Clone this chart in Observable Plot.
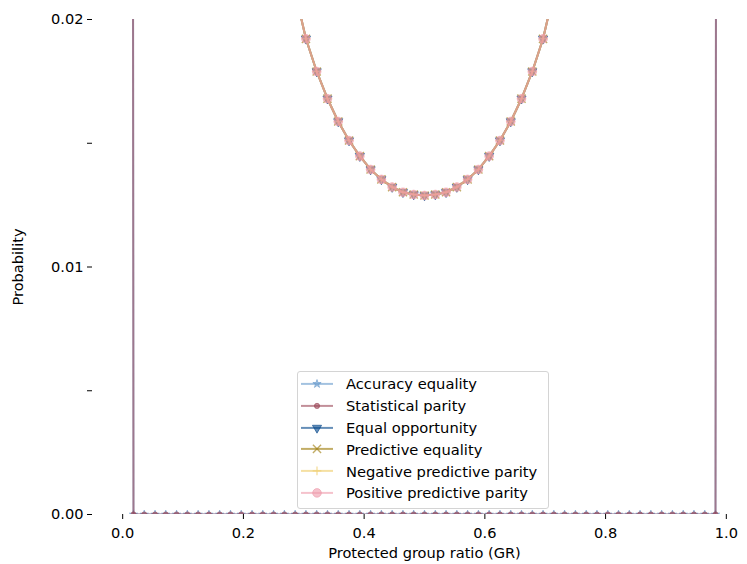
<!DOCTYPE html>
<html><head><meta charset="utf-8">
<script src="https://cdn.jsdelivr.net/npm/d3@7"></script>
<script src="https://cdn.jsdelivr.net/npm/@observablehq/plot@0.6"></script>
<style>
html,body{margin:0;padding:0;background:#fff;overflow:hidden;width:747px;height:564px;}
#wrap{position:relative;width:747px;height:564px;overflow:hidden;}
#wrap svg.plot, #wrap > svg{max-width:none !important;}
#legend{position:absolute;left:297px;top:371px;width:252px;height:138px;box-sizing:border-box;border:1px solid #d4d4d4;border-radius:3px;background:rgba(255,255,255,0.8);padding-top:1px;font-family:"DejaVu Sans";font-size:14.7px;color:#000;}
.row{display:flex;align-items:center;height:21.8px;white-space:nowrap;}
.row svg{flex:none;display:block;}
</style></head><body><div id="wrap"></div>
<script>
// Protected group ratio (GR) values
const gr = [0, 0.0179, 0.0357, 0.0536, 0.0714, 0.0893, 0.1071, 0.125, 0.1429, 0.1607,
  0.1786, 0.1964, 0.2143, 0.2321, 0.25, 0.2679, 0.2857, 0.3036, 0.3214, 0.3393,
  0.3571, 0.375, 0.3929, 0.4107, 0.4286, 0.4464, 0.4643, 0.4821, 0.5, 0.5179,
  0.5357, 0.5536, 0.5714, 0.5893, 0.6071, 0.625, 0.6429, 0.6607, 0.6786, 0.6964,
  0.7143, 0.7321, 0.75, 0.7679, 0.7857, 0.8036, 0.8214, 0.8393, 0.8571, 0.875,
  0.8929, 0.9107, 0.9286, 0.9464, 0.9643, 0.9821, 1];

const seriesNames = ["Accuracy equality", "Statistical parity", "Equal opportunity",
  "Predictive equality", "Negative predictive parity", "Positive predictive parity"];
const seriesColors = ["#6699CC", "#994455", "#004488", "#997700", "#EECC66", "#EE99AA"];

const accuracyEquality = [0.5,
  0,0,0,0,0,0,0,0,0,0,0,
  0,0,0,0,0,0,0,0,0,0,0,
  0,0,0,0,0,0,0,0,0,0,0,
  0,0,0,0,0,0,0,0,0,0,0,
  0,0,0,0,0,0,0,0,0,0,0,
  0.5];
const statisticalParity = [0.5,
  0,0,0,0,0,0,0,0,0,0,0,
  0,0,0,0,0,0,0,0,0,0,0,
  0,0,0,0,0,0,0,0,0,0,0,
  0,0,0,0,0,0,0,0,0,0,0,
  0,0,0,0,0,0,0,0,0,0,0,
  0.5];
const equalOpportunity = [0.35, 0.24, 0.175, 0.133, 0.105, 0.085, 0.0702, 0.059, 0.0504, 0.0436,
  0.0382, 0.0338, 0.0302, 0.0272, 0.0247, 0.0226, 0.0211, 0.01922, 0.0179, 0.0168,
  0.01588, 0.01511, 0.01448, 0.01394, 0.01354, 0.01323, 0.01302, 0.01293, 0.01289, 0.01293,
  0.01302, 0.01323, 0.01354, 0.01394, 0.01448, 0.01511, 0.01588, 0.0168, 0.0179, 0.01922,
  0.0211, 0.0226, 0.0247, 0.0272, 0.0302, 0.0338, 0.0382, 0.0436, 0.0504, 0.059,
  0.0702, 0.085, 0.105, 0.133, 0.175, 0.24, 0.35];
const predictiveEquality = [0.35, 0.24, 0.175, 0.133, 0.105, 0.085, 0.0702, 0.059, 0.0504, 0.0436,
  0.0382, 0.0338, 0.0302, 0.0272, 0.0247, 0.0226, 0.0211, 0.01922, 0.0179, 0.0168,
  0.01588, 0.01511, 0.01448, 0.01394, 0.01354, 0.01323, 0.01302, 0.01293, 0.01289, 0.01293,
  0.01302, 0.01323, 0.01354, 0.01394, 0.01448, 0.01511, 0.01588, 0.0168, 0.0179, 0.01922,
  0.0211, 0.0226, 0.0247, 0.0272, 0.0302, 0.0338, 0.0382, 0.0436, 0.0504, 0.059,
  0.0702, 0.085, 0.105, 0.133, 0.175, 0.24, 0.35];
const negativePredictiveParity = [0.35, 0.24, 0.175, 0.133, 0.105, 0.085, 0.0702, 0.059, 0.0504, 0.0436,
  0.0382, 0.0338, 0.0302, 0.0272, 0.0247, 0.0226, 0.0211, 0.01922, 0.0179, 0.0168,
  0.01588, 0.01511, 0.01448, 0.01394, 0.01354, 0.01323, 0.01302, 0.01293, 0.01289, 0.01293,
  0.01302, 0.01323, 0.01354, 0.01394, 0.01448, 0.01511, 0.01588, 0.0168, 0.0179, 0.01922,
  0.0211, 0.0226, 0.0247, 0.0272, 0.0302, 0.0338, 0.0382, 0.0436, 0.0504, 0.059,
  0.0702, 0.085, 0.105, 0.133, 0.175, 0.24, 0.35];
const positivePredictiveParity = [0.35, 0.24, 0.175, 0.133, 0.105, 0.085, 0.0702, 0.059, 0.0504, 0.0436,
  0.0382, 0.0338, 0.0302, 0.0272, 0.0247, 0.0226, 0.0211, 0.01922, 0.0179, 0.0168,
  0.01588, 0.01511, 0.01448, 0.01394, 0.01354, 0.01323, 0.01302, 0.01293, 0.01289, 0.01293,
  0.01302, 0.01323, 0.01354, 0.01394, 0.01448, 0.01511, 0.01588, 0.0168, 0.0179, 0.01922,
  0.0211, 0.0226, 0.0247, 0.0272, 0.0302, 0.0338, 0.0382, 0.0436, 0.0504, 0.059,
  0.0702, 0.085, 0.105, 0.133, 0.175, 0.24, 0.35];

const xTicks = [0, 0.2, 0.4, 0.6, 0.8, 1.0];
const yTicks = [0, 0.005, 0.01, 0.015, 0.02];
const yLabeled = [0, 0.01, 0.02];

// matplotlib-like triangle-down marker
const triangleDown = {
  draw(ctx, size) {
    const y = Math.sqrt(size / (3 * Math.sqrt(3)));
    const s3 = Math.sqrt(3);
    ctx.moveTo(0, 2 * y);
    ctx.lineTo(s3 * y, -y);
    ctx.lineTo(-s3 * y, -y);
    ctx.closePath();
  }
};

const allValues = [accuracyEquality, statisticalParity, equalOpportunity,
  predictiveEquality, negativePredictiveParity, positivePredictiveParity];
const symbols = ["star", "circle", triangleDown, "times", "plus", "circle"];
const d3Symbols = [d3.symbolStar, d3.symbolCircle, triangleDown, d3.symbolTimes, d3.symbolPlus, d3.symbolCircle];
const radii = [2.6, 2.6, 3.4, 3.8, 2.9, 4.3];
const filled = [true, true, true, false, false, true];
const alpha = 0.6;

const series = seriesNames.map((name, k) => ({
  name, color: seriesColors[k], values: allValues[k], symbol: symbols[k],
  d3sym: d3Symbols[k], r: radii[k], filled: filled[k]
}));

const marks = [];
for (const s of series) {
  const data = gr.map((x, i) => ({x, y: s.values[i]}));
  marks.push(Plot.line(data, {x: "x", y: "y", stroke: s.color, strokeOpacity: alpha, strokeWidth: 2, clip: true}));
  marks.push(Plot.dot(data, {x: "x", y: "y", symbol: s.symbol, r: s.r,
    fill: s.filled ? s.color : "none", fillOpacity: alpha,
    stroke: s.color, strokeOpacity: alpha, strokeWidth: s.filled ? 1 : 1.4, clip: true}));
}

marks.push(Plot.axisX({ticks: xTicks, tickFormat: d3.format(".1f"), tickSize: 5, tickPadding: 8,
  fontSize: 14.6, label: "Protected group ratio (GR)", labelAnchor: "center", labelArrow: "none", labelOffset: 43, line: true}));
marks.push(Plot.axisY({ticks: yTicks, tickFormat: d => yLabeled.includes(d) ? d3.format(".2f")(d) : "",
  fontSize: 14.6, tickSize: 5, tickPadding: 4, label: "Probability", labelAnchor: "center", labelArrow: "none", labelOffset: 80, line: true}));

const chart = Plot.plot({
  width: 756,
  height: 564,
  marginLeft: 92,
  marginRight: 0,
  marginTop: 19,
  marginBottom: 50,
  style: {fontFamily: "DejaVu Sans", fontSize: "14.6px", color: "#000", background: "#fff", maxWidth: "none"},
  x: {domain: [-0.05, 1.05]},
  y: {domain: [0, 0.02]},
  marks
});
chart.style.maxWidth = "none";
chart.style.display = "block";
const wrap = document.getElementById("wrap");
wrap.appendChild(chart);

// Legend
const legend = document.createElement("div");
legend.id = "legend";
for (const s of series) {
  const row = document.createElement("div");
  row.className = "row";
  const svg = d3.create("svg").attr("width", 48).attr("height", 21.8);
  svg.append("line").attr("x1", 3).attr("x2", 35).attr("y1", 10.9).attr("y2", 10.9)
    .attr("stroke", s.color).attr("stroke-opacity", alpha).attr("stroke-width", 2);
  svg.append("path").attr("transform", "translate(19,10.9)")
    .attr("d", d3.symbol(s.d3sym, s.r * s.r * Math.PI)())
    .attr("fill", s.filled ? s.color : "none").attr("fill-opacity", alpha)
    .attr("stroke", s.color).attr("stroke-opacity", alpha).attr("stroke-width", s.filled ? 1 : 1.4);
  row.appendChild(svg.node());
  const t = document.createElement("span");
  t.textContent = s.name;
  row.appendChild(t);
  legend.appendChild(row);
}
wrap.appendChild(legend);
</script>
</body></html>
